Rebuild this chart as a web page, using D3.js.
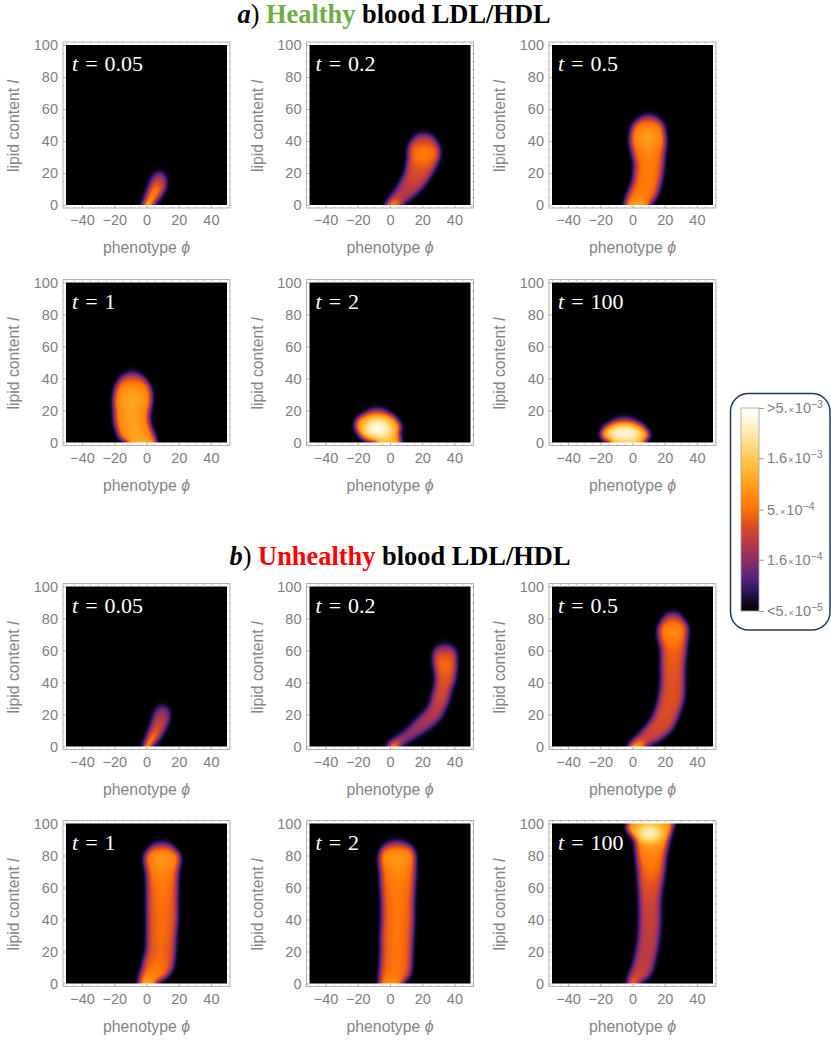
<!DOCTYPE html>
<html>
<head>
<meta charset="utf-8">
<script src="https://cdn.jsdelivr.net/npm/d3@7"></script>
<style>
  html, body { margin: 0; padding: 0; background: #fff; }
  svg { display: block; }
  .axis text { fill: #808080; font-family: "Liberation Sans", Arial, sans-serif; font-size: 14.5px; }
  .axis line { stroke: #a8a8a8; stroke-width: 0.8px; }
  .axis path { display: none; }
  .axisTitle { fill: #858585; font-family: "Liberation Sans", Arial, sans-serif; font-size: 15.8px; }
  .title { font-family: "Liberation Serif", serif; font-weight: bold; font-size: 26.4px; fill: #000; }
  .timeLabel { fill: #fff; font-family: "Liberation Serif", serif; font-size: 22px; }
  .barLabel { fill: #808080; font-family: "Liberation Sans", Arial, sans-serif; font-size: 12px; }
</style>
</head>
<body>
<div id="chart"></div>
<script>
// colour bar, read bottom to top
const colorPositions = [0, 0.07, 0.145, 0.25, 0.34, 0.43, 0.5, 0.64, 0.75, 0.83, 0.92, 1]
const colorValues = ['#000000', '#1d0f3a', '#4c1f7e', '#8a2f66', '#b93a45', '#dd5022', '#ff7208', '#ffa51e', '#ffc850', '#ffdf8c', '#fff3cf', '#ffffff']
const barTicks = [5e-3, 1.6e-3, 5e-4, 1.6e-4, 5e-5]
const barMantissa = ['>5.', '1.6', '5.', '1.6', '<5.']
const barExponent = ['\u22123', '\u22123', '\u22124', '\u22124', '\u22125']

const timeLabels = ['0.05', '0.2', '0.5', '1', '2', '100']
const phiTicks = [-40, -20, 0, 20, 40]
const lipidTicks = [0, 20, 40, 60, 80, 100]
const phiMinor = d3.range(-50, 51, 5)
const lipidMinor = d3.range(0, 101, 5)

// each row: lipid content, left phi of the plume, right phi of the plume, colour bar level
const healthy005 = [[0, -1, 3, .8], [5, .5, 7, .62], [10, 2, 10.5, .55], [15, 3.5, 11.5, .4], [18, 5, 11, .3], [20.5, 6.5, 9.5, .14]]
const healthy02 = [[0, -1.5, 6, .64], [5, 1, 13, .34], [10, 4.5, 18.5, .36], [15, 7.5, 22.5, .4], [20, 10, 25.5, .43], [25, 11, 28, .48], [30, 12, 30, .55], [35, 12, 30, .54], [40, 14, 28, .42], [44, 18, 24, .2]]
const healthy05 = [[0, -4, 10, .68], [5, -3, 14, .54], [10, -1, 16, .54], [15, 1, 17, .54], [20, 1.5, 18, .54], [25, 2, 18.5, .54], [30, 1, 19, .55], [35, 0, 19.5, .58], [40, -1, 20, .63], [45, -.5, 19.5, .63], [50, 1, 18.5, .56], [53, 4, 16, .45], [55, 7, 13, .25]]
const healthy1 = [[0, -11.5, 5.5, .7], [2, -15, 5, .66], [5, -17, 4, .64], [10, -18.5, 2, .64], [15, -19.5, 1, .64], [20, -19.5, 1.5, .64], [25, -20, 2.5, .66], [30, -19.5, 2.5, .65], [35, -18.5, 1.5, .6], [40, -15.5, -2, .45], [43, -12, -6, .22]]
const healthy2 = [[0, -8, 6, .72], [2, -14.5, 6, .74], [5, -18.5, 5, .76], [10, -21, 6, .76], [15, -19.5, 3, .7], [18, -15, -1, .5], [20, -11, -5, .22]]
const healthy100 = [[0, -13, 7, .72], [2, -17, 8, .74], [4, -19, 10, .76], [8, -18, 8, .74], [12, -13, 3, .5], [14, -8, -3, .22]]
const unhealthy005 = [[0, -.5, 2, .85], [5, 1, 6.5, .6], [10, 2.5, 10, .46], [15, 4, 12.5, .4], [18, 5, 13.5, .36], [22, 6, 13.5, .28], [25.5, 8.5, 11.5, .14]]
const unhealthy02 = [[0, -.5, 5, .68], [5, 4, 13.5, .28], [10, 10.5, 21.5, .3], [15, 15.5, 28, .33], [20, 20.5, 32, .35], [25, 25, 34, .38], [30, 26.5, 36, .42], [35, 28, 37, .44], [40, 29, 39, .46], [45, 29, 40, .48], [50, 28, 40.5, .52], [55, 27.5, 40.5, .5], [60, 28, 40, .36], [63, 31, 37, .18]]
const unhealthy05 = [[0, -1.5, 7, .7], [5, 2.5, 17, .38], [10, 7, 23, .42], [15, 11, 26, .43], [20, 14, 28, .44], [30, 17, 31, .45], [40, 18.5, 31.5, .45], [50, 18.5, 31.5, .47], [60, 18.5, 32.5, .49], [65, 17.5, 33, .53], [70, 16.5, 33.5, .58], [75, 17, 33.5, .58], [80, 20, 30, .44], [83, 22, 28, .2]]
const unhealthy1 = [[0, -4, 5, .7], [5, -3.5, 12.5, .56], [10, -2, 15.5, .52], [15, -1, 16.5, .5], [20, .5, 17, .49], [30, 1, 17.5, .5], [40, 1, 18.5, .5], [50, 1, 18.5, .51], [60, 1, 18.5, .53], [70, .5, 19, .57], [75, -.5, 20, .61], [80, -.5, 20, .63], [85, 3, 16, .46], [87, 6, 13, .22]]
const unhealthy2 = [[0, -6, 7, .64], [5, -6, 11.5, .52], [10, -5.5, 12.5, .52], [20, -5, 13, .52], [30, -5, 13.5, .52], [40, -4.5, 14, .52], [50, -4.5, 14, .53], [60, -5, 14.5, .54], [70, -5.5, 15, .57], [75, -6, 15, .61], [80, -6, 15, .65], [85, -4, 13, .5], [88, 0, 8, .22]]
const unhealthy100 = [[0, -2, 2.5, .6], [5, -1.5, 10, .4], [10, .5, 12, .38], [20, 3, 14.5, .37], [30, 4.5, 16, .38], [40, 5, 16.5, .39], [50, 5, 16.5, .41], [60, 4.5, 17.5, .45], [70, 4, 19, .51], [80, 3, 20, .57], [85, 2.5, 21, .6], [90, 2, 22, .68], [93, -.5, 23, .74], [97, -3, 24, .76], [100, -2.5, 25, .66]]

// white hot centres of the brightest plumes
const healthyCore2 = [[4, -14, 0, .98], [9, -15, 0, .98], [14, -12, -3, .98]]
const healthyCore100 = [[2, -13, 3, .98], [6, -15, 5, .98], [10, -11, 0, .98]]
const unhealthyCore100 = [[90, 6, 15, .98], [94, 4, 17, .98], [97, 6, 15, .98]]

const healthyPlumes = [healthy005, healthy02, healthy05, healthy1, healthy2, healthy100]
const unhealthyPlumes = [unhealthy005, unhealthy02, unhealthy05, unhealthy1, unhealthy2, unhealthy100]
const healthyCores = [null, null, null, null, healthyCore2, healthyCore100]
const unhealthyCores = [null, null, null, null, null, unhealthyCore100]

// layout
const panelLeft = [66, 309.5, 552]
const rowTop = [45, 282.5, 586.5, 823.5]
const panelWidth = 161
const panelHeight = 160
const framePad = 3
const edgeInset = -0.3
const overscan = 12

const svg = d3.select('#chart').append('svg').attr('width', 831).attr('height', 1040)
const defs = svg.append('defs')

const x = d3.scaleLinear().domain([-50, 50]).range([0, panelWidth])
const y = d3.scaleLinear().domain([0, 100]).range([panelHeight, 0])
const levelColor = d3.scaleLinear().domain(colorPositions).range(colorValues)

// the plumes are painted as grey levels, blurred, and then mapped through the colour bar
const table = d3.range(0, 256).map(i => d3.rgb(levelColor(i / 255)))
const heat = defs.append('filter')
    .attr('id', 'heat')
    .attr('x', 0).attr('y', 0).attr('width', 1).attr('height', 1)
    .attr('color-interpolation-filters', 'sRGB')
heat.append('feGaussianBlur').attr('stdDeviation', 2.6)
const transfer = heat.append('feComponentTransfer')
transfer.append('feFuncR').attr('type', 'table').attr('tableValues', table.map(c => (c.r / 255).toFixed(3)).join(' '))
transfer.append('feFuncG').attr('type', 'table').attr('tableValues', table.map(c => (c.g / 255).toFixed(3)).join(' '))
transfer.append('feFuncB').attr('type', 'table').attr('tableValues', table.map(c => (c.b / 255).toFixed(3)).join(' '))

const soft = defs.append('filter')
    .attr('id', 'soft')
    .attr('x', '-60%').attr('y', '-60%').attr('width', '220%').attr('height', '220%')
    .attr('color-interpolation-filters', 'sRGB')
soft.append('feGaussianBlur').attr('stdDeviation', 4)

const grey = v => {
    const g = Math.round(Math.min(1, v) * 255)
    return d3.rgb(g, g, g).formatHex()
}

let gradientCount = 0

// builds a grey gradient running up the lipid axis, gain scales the levels
function levelGradient(rows, gain) {
    const id = 'level' + gradientCount++
    const gradient = defs.append('linearGradient')
        .attr('id', id)
        .attr('gradientUnits', 'userSpaceOnUse')
        .attr('x1', 0).attr('x2', 0)
        .attr('y1', y(0)).attr('y2', y(100))
    gradient.selectAll('stop')
        .data(rows)
        .enter()
        .append('stop')
        .attr('offset', d => d[0] / 100)
        .attr('stop-color', d => grey(d[3] * gain))
    return 'url(#' + id + ')'
}

// rows touching the plot edge carry on past it so that the blur does not fade there
function extendRows(rows) {
    const out = rows.slice()
    const first = rows[0], last = rows[rows.length - 1]
    if (first[0] <= 0) out.unshift([-overscan, first[1], first[2], first[3]])
    if (last[0] >= 100) out.push([100 + overscan, last[1], last[2], last[3]])
    return out
}

function plumeArea(inset, shrink) {
    const left = d => {
        const mid = (d[1] + d[2]) / 2
        return Math.min(mid, mid + (d[1] - mid) * shrink + inset)
    }
    const right = d => {
        const mid = (d[1] + d[2]) / 2
        return Math.max(mid, mid + (d[2] - mid) * shrink - inset)
    }
    return d3.area()
        .y(d => y(d[0]))
        .x0(d => x(left(d)))
        .x1(d => x(right(d)))
        .curve(d3.curveCatmullRom)
}

function drawAxes(g) {
    const bottom = panelHeight + framePad
    const right = panelWidth + framePad

    g.append('rect')
        .attr('x', -framePad).attr('y', -framePad)
        .attr('width', panelWidth + 2 * framePad).attr('height', panelHeight + 2 * framePad)
        .attr('fill', 'none').attr('stroke', '#b4b4b4').attr('stroke-width', 1)

    g.append('g').attr('class', 'axis').attr('transform', `translate(0,${bottom})`)
        .call(d3.axisBottom(x).tickValues(phiTicks).tickSize(-2.6).tickPadding(7))
    g.append('g').attr('class', 'axis').attr('transform', `translate(0,${bottom})`)
        .call(d3.axisBottom(x).tickValues(phiMinor).tickSize(-1.4).tickFormat(''))
    g.append('g').attr('class', 'axis').attr('transform', `translate(0,${-framePad})`)
        .call(d3.axisTop(x).tickValues(phiMinor).tickSize(-1.6).tickFormat(''))
    g.append('g').attr('class', 'axis').attr('transform', `translate(${-framePad},0)`)
        .call(d3.axisLeft(y).tickValues(lipidTicks).tickSize(-2.6).tickPadding(5))
    g.append('g').attr('class', 'axis').attr('transform', `translate(${-framePad},0)`)
        .call(d3.axisLeft(y).tickValues(lipidMinor).tickSize(-1.4).tickFormat(''))
    g.append('g').attr('class', 'axis').attr('transform', `translate(${right},0)`)
        .call(d3.axisRight(y).tickValues(lipidMinor).tickSize(-1.6).tickFormat(''))

    const xTitle = g.append('text').attr('class', 'axisTitle')
        .attr('x', panelWidth / 2).attr('y', panelHeight + 48)
        .attr('text-anchor', 'middle')
    xTitle.append('tspan').text('phenotype ')
    xTitle.append('tspan').attr('font-style', 'italic').text('\u03d5')

    const yTitle = g.append('text').attr('class', 'axisTitle')
        .attr('transform', `translate(-47,${panelHeight / 2 + 1}) rotate(-90)`)
        .attr('text-anchor', 'middle')
    yTitle.append('tspan').text('lipid content ')
    yTitle.append('tspan').attr('font-style', 'italic').text('l')
}

function drawPanel(left, top, rows, core, label, idx) {
    const g = svg.append('g').attr('transform', `translate(${left},${top})`)
    const clipId = 'clip' + idx

    defs.append('clipPath').attr('id', clipId)
        .append('rect').attr('width', panelWidth).attr('height', panelHeight)

    const heatLayer = g.append('g').attr('clip-path', `url(#${clipId})`)
        .append('g').attr('filter', 'url(#heat)')

    heatLayer.append('rect')
        .attr('x', -overscan * 2).attr('y', -overscan * 2)
        .attr('width', panelWidth + overscan * 4).attr('height', panelHeight + overscan * 4)
        .attr('fill', '#000')

    const extended = extendRows(rows)
    heatLayer.append('path')
        .attr('d', plumeArea(edgeInset, 1)(extended))
        .attr('fill', levelGradient(rows, 0.86))
    heatLayer.append('path')
        .attr('d', plumeArea(0, 0.45)(extended))
        .attr('fill', levelGradient(rows, 1))
        .attr('filter', 'url(#soft)')

    if (core) {
        heatLayer.append('path')
            .attr('d', plumeArea(0, 1)(core))
            .attr('fill', levelGradient(core, 1))
            .attr('filter', 'url(#soft)')
    }

    drawAxes(g)

    const text = g.append('text').attr('class', 'timeLabel').attr('x', 6).attr('y', 26)
    text.append('tspan').attr('font-style', 'italic').text('t')
    text.append('tspan').attr('dx', 7).text('=')
    text.append('tspan').attr('dx', 7).text(label)
}

healthyPlumes.forEach((rows, i) => {
    drawPanel(panelLeft[i % 3], rowTop[Math.floor(i / 3)], rows, healthyCores[i], timeLabels[i], 'h' + i)
})
unhealthyPlumes.forEach((rows, i) => {
    drawPanel(panelLeft[i % 3], rowTop[2 + Math.floor(i / 3)], rows, unhealthyCores[i], timeLabels[i], 'u' + i)
})

// titles
function drawTitle(cx, cy, letter, word, color) {
    const t = svg.append('text').attr('class', 'title')
        .attr('x', cx).attr('y', cy).attr('text-anchor', 'middle')
    t.append('tspan').attr('font-style', 'italic').text(letter)
    t.append('tspan').attr('font-weight', 'normal').text(') ')
    t.append('tspan').attr('fill', color).text(word)
    t.append('tspan').text(' blood LDL/HDL')
}
drawTitle(394, 23, 'a', 'Healthy', '#70ad47')
drawTitle(400, 565, 'b', 'Unhealthy', '#ff0000')

// legend
svg.append('rect')
    .attr('x', 730.5).attr('y', 393.5)
    .attr('width', 99.5).attr('height', 236.5)
    .attr('rx', 18).attr('ry', 18)
    .attr('fill', '#fff').attr('stroke', '#1f3a5f').attr('stroke-width', 1.5)

const barGradient = defs.append('linearGradient')
    .attr('id', 'barGradient')
    .attr('x1', 0).attr('x2', 0).attr('y1', 1).attr('y2', 0)
barGradient.selectAll('stop')
    .data(colorPositions)
    .enter()
    .append('stop')
    .attr('offset', d => d)
    .attr('stop-color', (d, i) => colorValues[i])

const barScale = d3.scaleLog().domain([5e-5, 5e-3]).range([611, 408])
const barLeft = 741
const barRight = 759

svg.append('rect')
    .attr('x', barLeft).attr('y', barScale.range()[1])
    .attr('width', barRight - barLeft).attr('height', barScale.range()[0] - barScale.range()[1])
    .attr('fill', 'url(#barGradient)')
    .attr('stroke', '#a0a0a0').attr('stroke-width', 0.8)

const barAxis = svg.append('g').attr('class', 'axis').attr('transform', `translate(${barRight},0)`)
    .call(d3.axisRight(barScale).tickValues(barTicks).tickSize(5).tickPadding(3).tickFormat(''))
barAxis.selectAll('line').style('stroke', '#808080')

barAxis.selectAll('.tick text')
    .attr('class', 'barLabel')
    .each(function (d, i) {
        const t = d3.select(this)
        t.append('tspan').text(barMantissa[i])
        t.append('tspan').attr('dx', 1).attr('font-size', 9).text('\u00d7')
        t.append('tspan').attr('dx', 1).text('10')
        t.append('tspan').attr('dy', -5).attr('font-size', 10.5).text(barExponent[i])
    })
</script>
</body>
</html>
